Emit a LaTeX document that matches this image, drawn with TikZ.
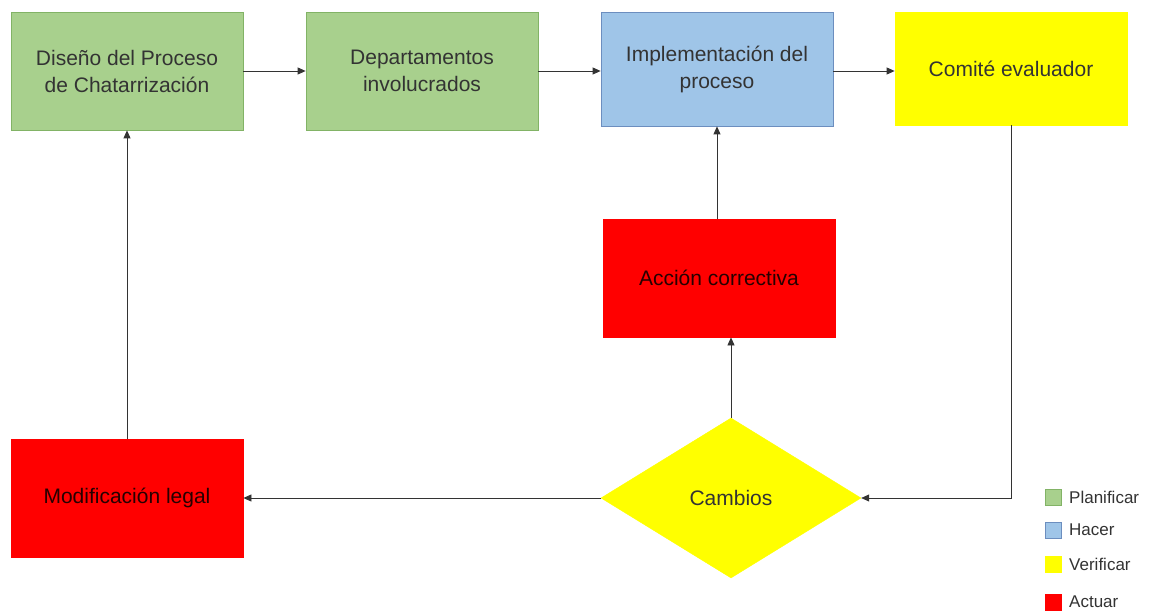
\documentclass[tikz,border=0pt]{standalone}
\usepackage{fontspec}
\setmainfont{Liberation Sans}
\usetikzlibrary{arrows.meta,shapes.geometric}
\definecolor{planfill}{HTML}{A8D08D}
\definecolor{plandraw}{HTML}{82B366}
\definecolor{hacerfill}{HTML}{9FC5E8}
\definecolor{hacerdraw}{HTML}{6C8EBF}
\definecolor{verifill}{HTML}{FFFF00}
\definecolor{actfill}{HTML}{FF0000}
\definecolor{ink}{HTML}{333333}
\tikzset{
  base/.style={rectangle, minimum width=232pt, minimum height=118pt, inner sep=2pt,
    align=center, text=ink, font=\fontsize{21}{27}\selectfont, line width=0.8pt},
  plan/.style={base, fill=planfill, draw=plandraw},
  hacer/.style={base, fill=hacerfill, draw=hacerdraw, minimum height=114pt},
  verif/.style={base, fill=verifill, draw=verifill, minimum height=113pt},
  actuar/.style={base, fill=actfill, draw=actfill, text=black!85!red},
  decision/.style={diamond, fill=verifill, draw=verifill, minimum width=260pt, minimum height=160pt,
    inner sep=0pt, text=ink, font=\fontsize{21}{27}\selectfont},
  flow/.style={draw=ink, line width=0.8pt, -{Triangle[length=8pt,width=7pt]}},
  keybox/.style={rectangle, minimum size=16pt, inner sep=0pt, line width=0.6pt},
  keytext/.style={anchor=west, inner sep=0pt, text=ink, font=\fontsize{17}{20}\selectfont}
}
\begin{document}
\begin{tikzpicture}[x={(1pt,0pt)}, y={(0pt,-1pt)}]
  \path[use as bounding box, fill=white] (0,0) rectangle (1151,612);

  % top row
  \node[plan]   (dis) at (127,71)  {Diseño del Proceso\\de Chatarrización};
  \node[plan]   (dep) at (422,71)  {Departamentos\\involucrados};
  \node[hacer]  (imp) at (717,69)  {Implementación del\\proceso};
  \node[verif]  (com) at (1011,68.5) {Comité evaluador};

  % middle and bottom
  \node[actuar] (acc) at (719,278) {Acción correctiva};
  \node[decision] (cam) at (731,498) {Cambios};
  \node[actuar] (mod) at (127,498) {Modificación legal};

  % connectors
  \coordinate (row) at (0,71);
  \draw[flow] (dis.east) -- (dep.west);
  \draw[flow] (dep.east) -- (dep.east -| imp.west);
  \draw[flow] (imp.east |- row) -- (com.west |- row);
  \draw[flow] (com.south) |- (cam.east);
  \draw[flow] (cam.north) -- (cam.north |- acc.south);
  \draw[flow] (acc.north -| imp.south) -- (imp.south);
  \draw[flow] (cam.west) -- (mod.east);
  \draw[flow] (mod.north) -- (dis.south);

  % legend
  \node[keybox, fill=planfill, draw=plandraw] (k1) at (1053,497) {};
  \node[keytext] (t1) at (1069,497) {Planificar};
  \node[keybox, fill=hacerfill, draw=hacerdraw] (k2) at (1053,530) {};
  \node[keytext] (t2) at (1069,530) {Hacer};
  \node[keybox, fill=verifill, draw=verifill] (k3) at (1053,564) {};
  \node[keytext] (t3) at (1069,564) {Verificar};
  \node[keybox, fill=actfill, draw=actfill] (k4) at (1053,602) {};
  \node[keytext] (t4) at (1069,602) {Actuar};
\end{tikzpicture}
\end{document}
